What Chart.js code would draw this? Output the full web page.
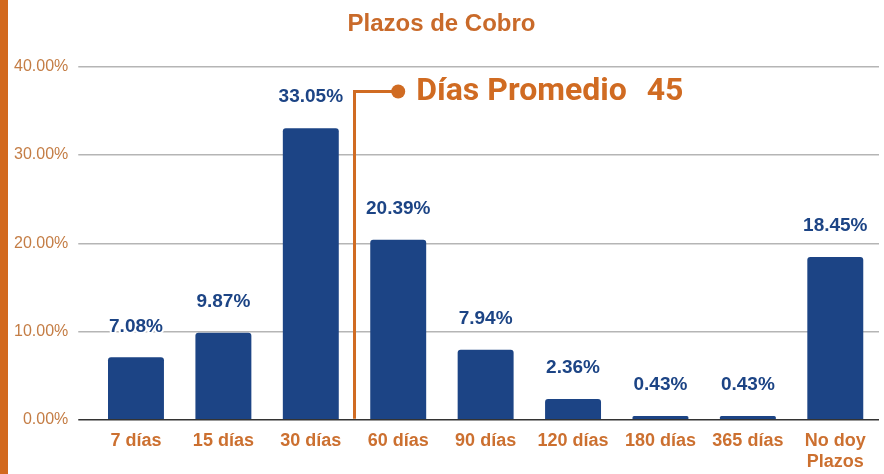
<!DOCTYPE html>
<html>
<head>
<meta charset="utf-8">
<script src="https://cdn.jsdelivr.net/npm/chart.js@4.4.1/dist/chart.umd.min.js"></script>
<style>
    html, body { margin: 0; padding: 0; background: #fff; }
    #wrap { position: relative; width: 884px; height: 474px; }
    #side-bar { position: absolute; left: 0; top: 0; width: 8px; height: 474px; background: #d2691e; }
</style>
</head>
<body>
<div id="wrap">
    <canvas id="plazosChart" width="884" height="474"></canvas>
    <div id="side-bar"></div>
</div>
<script>
// Data
const categories = ['7 días', '15 días', '30 días', '60 días', '90 días', '120 días', '180 días', '365 días', ['No doy', 'Plazos']];
const percentages = [7.08, 9.87, 33.05, 20.39, 7.94, 2.36, 0.43, 0.43, 18.45];
const yTicks = [0, 10, 20, 30, 40];

// Average days marker (between 30 and 60 días)
const averageLabel = 'Días Promedio';
const averageValue = 45;
const averagePosition = 2.5;
const averageTop = 37.2;

const orange = '#d06b22';
const blue = '#1c4485';

// Draws the value above each bar
const barLabels = {
    id: 'barLabels',
    afterDatasetsDraw(chart) {
        const ctx = chart.ctx;
        const meta = chart.getDatasetMeta(0);
        ctx.save();
        ctx.font = 'bold 19px "Liberation Sans", Arial, sans-serif';
        ctx.textAlign = 'center';
        ctx.textBaseline = 'middle';
        ctx.lineJoin = 'round';
        meta.data.forEach((bar, i) => {
            const text = percentages[i].toFixed(2) + '%';
            const y = bar.y - 31;
            ctx.strokeStyle = '#ffffff';
            ctx.lineWidth = 4;
            ctx.strokeText(text, bar.x, y);
            ctx.fillStyle = blue;
            ctx.fillText(text, bar.x, y);
        });
        ctx.restore();
    }
};

// Draws the "Días Promedio" marker line
const averageMarker = {
    id: 'averageMarker',
    afterDatasetsDraw(chart) {
        const ctx = chart.ctx;
        const x = chart.scales.x.getPixelForValue(averagePosition);
        const yBottom = chart.scales.y.getPixelForValue(0);
        const yTop = chart.scales.y.getPixelForValue(averageTop);
        const xDot = chart.scales.x.getPixelForValue(3);

        ctx.save();
        ctx.strokeStyle = orange;
        ctx.lineWidth = 3;
        ctx.beginPath();
        ctx.moveTo(x, yBottom - 1);
        ctx.lineTo(x, yTop);
        ctx.lineTo(xDot, yTop);
        ctx.stroke();

        ctx.fillStyle = orange;
        ctx.beginPath();
        ctx.arc(xDot, yTop, 7, 0, Math.PI * 2);
        ctx.fill();

        ctx.font = 'bold 32px Roboto, sans-serif';
        ctx.textAlign = 'left';
        ctx.textBaseline = 'middle';
        const textX = xDot + 18;
        ctx.fillText(averageLabel, textX, yTop);
        const labelWidth = ctx.measureText(averageLabel).width;
        ctx.fillText(String(averageValue), textX + labelWidth + 20, yTop);
        ctx.restore();
    }
};

const ctx = document.getElementById('plazosChart').getContext('2d');

new Chart(ctx, {
    type: 'bar',
    data: {
        labels: categories,
        datasets: [{
            data: percentages,
            backgroundColor: blue,
            borderRadius: 3,
            borderSkipped: 'bottom',
            categoryPercentage: 0.8,
            barPercentage: 0.8
        }]
    },
    options: {
        responsive: false,
        animation: false,
        layout: {
            padding: { left: 4, right: 5, top: 0, bottom: -1 }
        },
        scales: {
            x: {
                grid: { display: false },
                border: { display: false },
                ticks: {
                    color: '#cc7030',
                    font: { family: '"Liberation Sans", Arial, sans-serif', size: 18, weight: 'bold' },
                    padding: 2,
                    maxRotation: 0,
                    autoSkip: false
                }
            },
            y: {
                min: 0,
                max: 40,
                afterBuildTicks: (axis) => {
                    axis.ticks = yTicks.map(v => ({ value: v }));
                },
                border: { display: false },
                grid: {
                    color: (c) => c.tick && c.tick.value === 0 ? '#333333' : '#b5b5b5',
                    lineWidth: 1.5,
                    tickLength: 14
                },
                ticks: {
                    color: '#c47d45',
                    font: { family: '"Liberation Sans", Arial, sans-serif', size: 16 },
                    padding: 10,
                    callback: (value) => value.toFixed(2) + '%'
                }
            }
        },
        plugins: {
            legend: { display: false },
            tooltip: { enabled: false },
            title: {
                display: true,
                text: 'Plazos de Cobro',
                color: '#c96a2a',
                font: { family: '"Liberation Sans", Arial, sans-serif', size: 24, weight: 'bold' },
                padding: { top: 10, bottom: 28 }
            }
        }
    },
    plugins: [barLabels, averageMarker]
});
</script>
</body>
</html>
